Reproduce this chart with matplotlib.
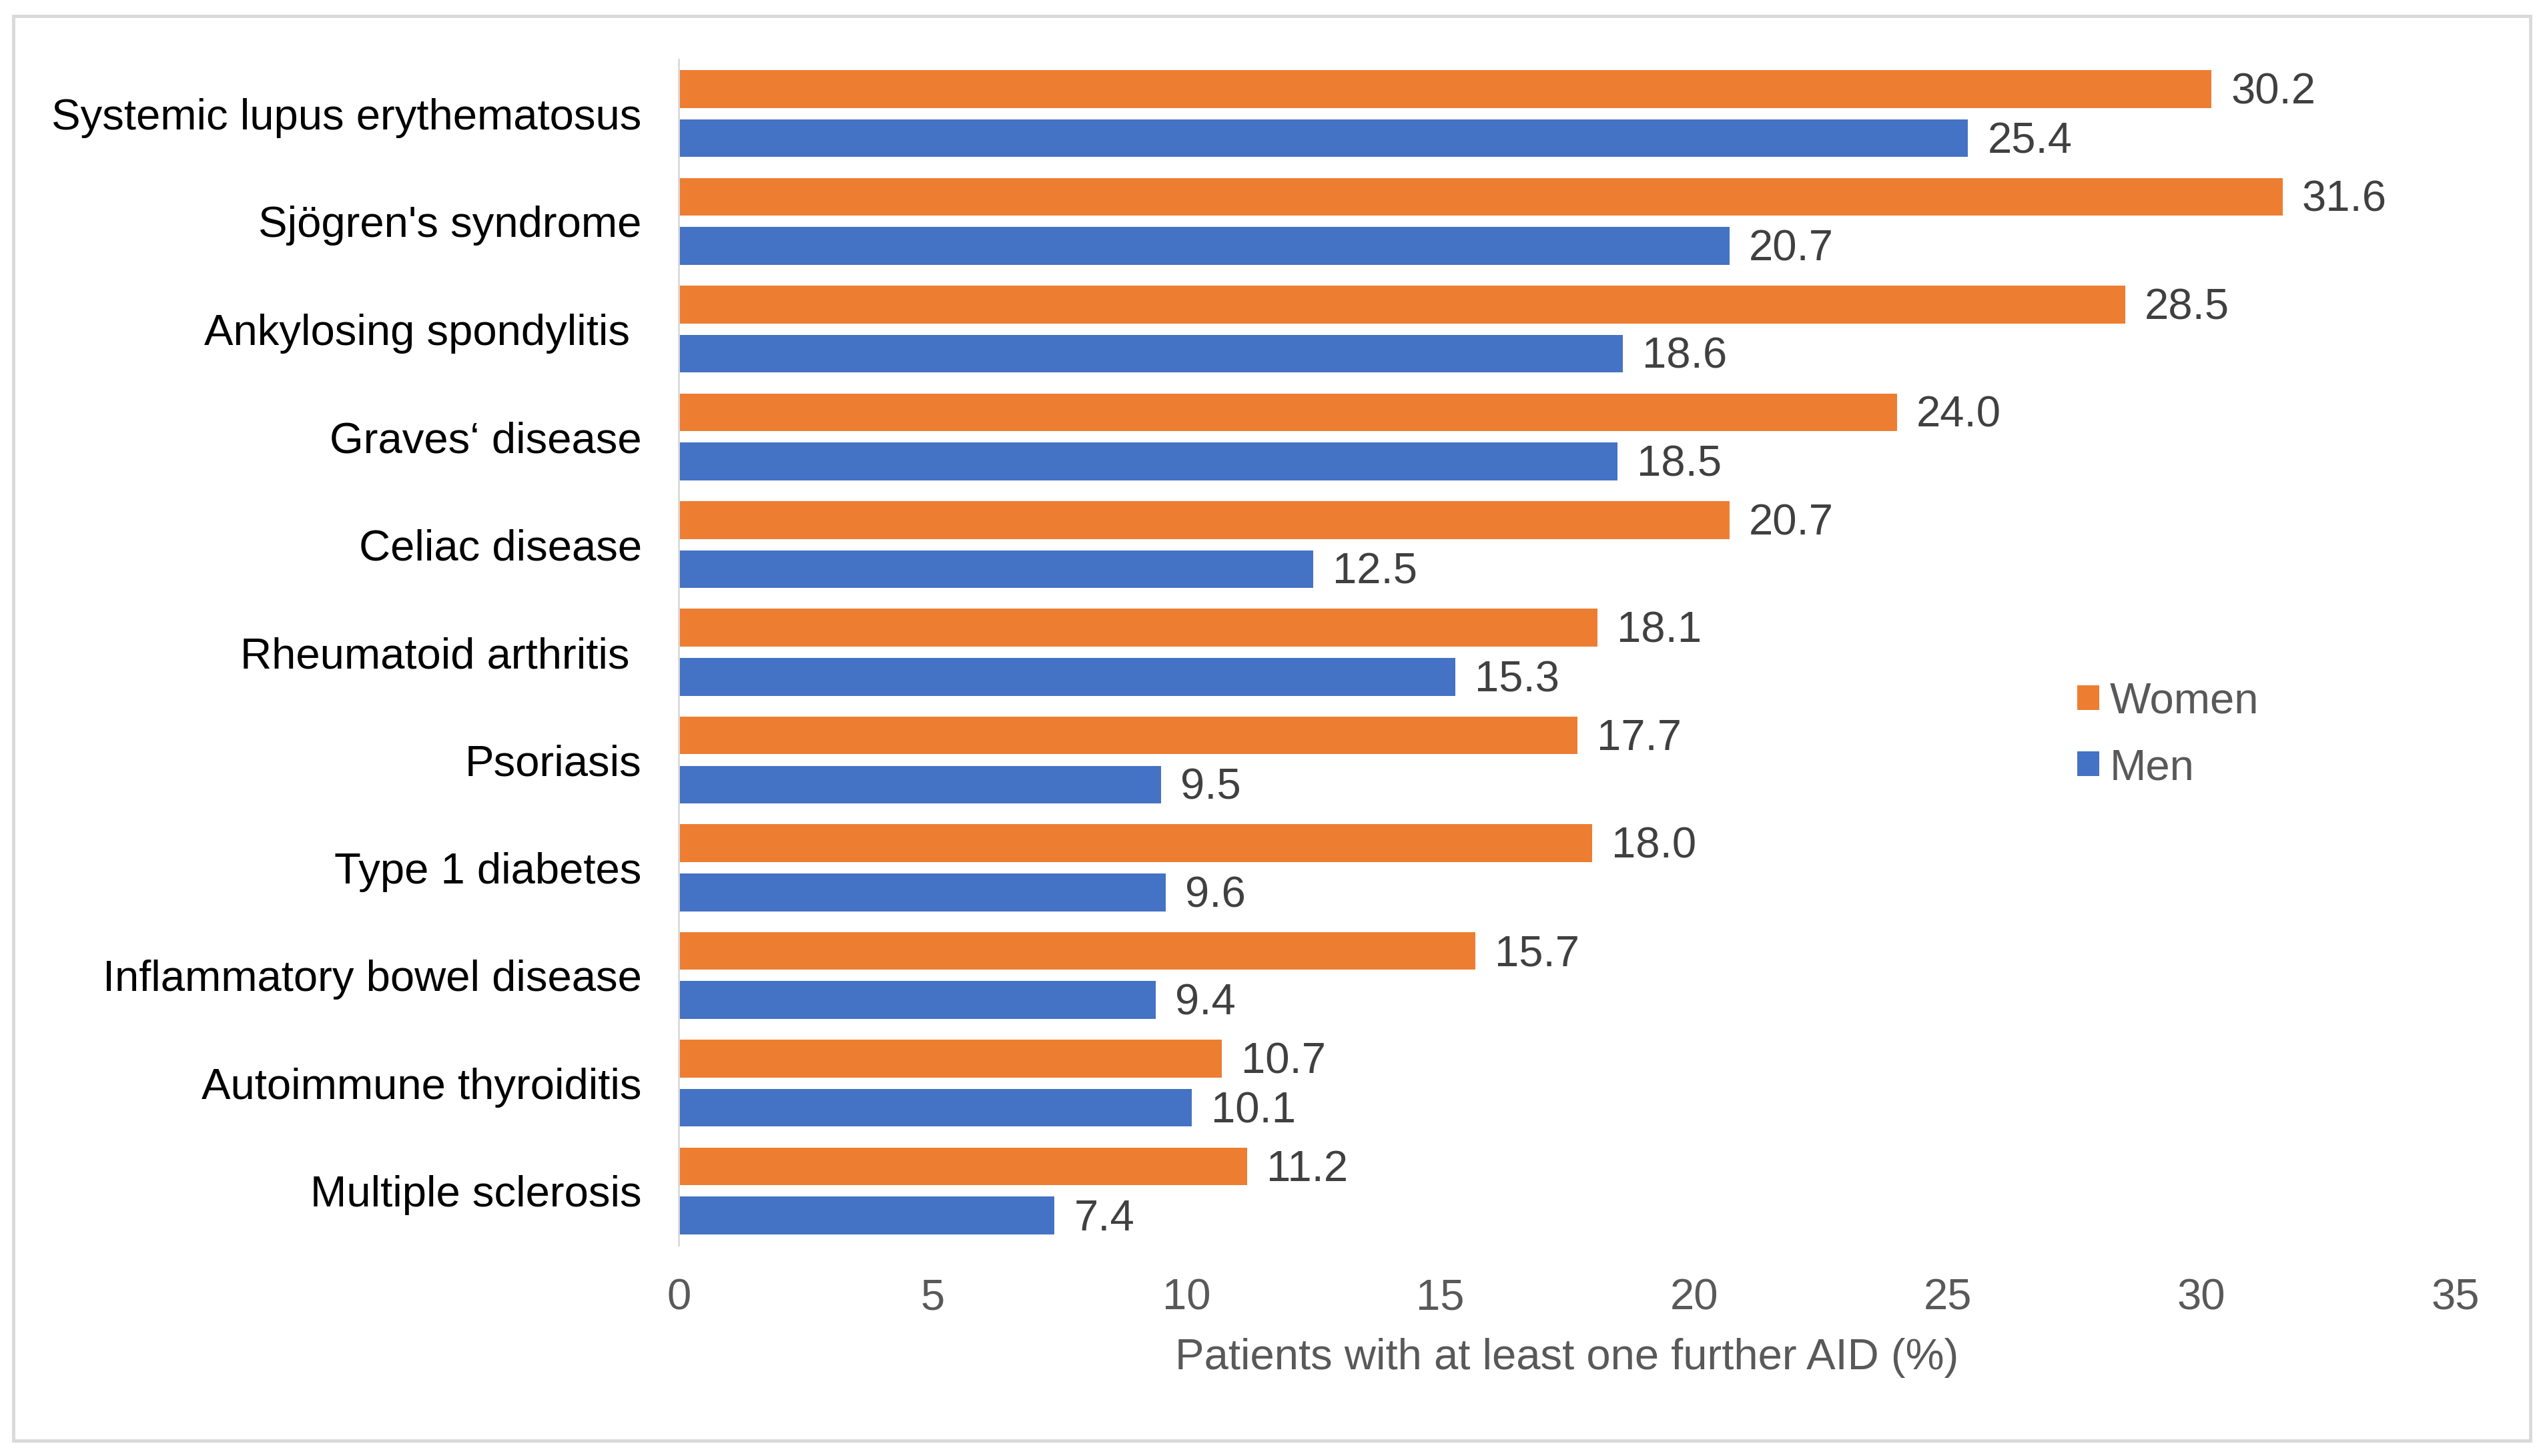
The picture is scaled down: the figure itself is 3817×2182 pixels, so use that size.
import matplotlib.pyplot as plt
import numpy as np
from matplotlib.patches import Rectangle

OUTPUT_PATH = "out.png"

DISEASES = [
    "Systemic lupus erythematosus",
    "Sjögren's syndrome",
    "Ankylosing spondylitis ",
    "Graves\u2018 disease",
    "Celiac disease",
    "Rheumatoid arthritis ",
    "Psoriasis",
    "Type 1 diabetes",
    "Inflammatory bowel disease",
    "Autoimmune thyroiditis",
    "Multiple sclerosis",
]
WOMEN = [30.2, 31.6, 28.5, 24.0, 20.7, 18.1, 17.7, 18.0, 15.7, 10.7, 11.2]
MEN = [25.4, 20.7, 18.6, 18.5, 12.5, 15.3, 9.5, 9.6, 9.4, 10.1, 7.4]
X_TICKS = [0, 5, 10, 15, 20, 25, 30, 35]

ORANGE = "#ED7D31"
BLUE = "#4472C4"
FS = 47


def main():
    plt.rcParams["font.family"] = ["Liberation Sans", "DejaVu Sans"]

    fig = plt.figure(figsize=(38.17, 21.82), dpi=100)
    ax = fig.add_axes([0.2665, 0.145, 0.6975, 0.814])

    y = np.arange(len(DISEASES))
    bar_h = 0.35
    off = 0.228
    ax.barh(y - off, WOMEN, height=bar_h, color=ORANGE, label="Women")
    ax.barh(y + off, MEN, height=bar_h, color=BLUE, label="Men")

    for yi, w, m in zip(y, WOMEN, MEN):
        ax.annotate(f"{w:.1f}", (w, yi - off), xytext=(29, -5),
                    textcoords="offset pixels", va="center", ha="left",
                    fontsize=FS, color="#404040")
        ax.annotate(f"{m:.1f}", (m, yi + off), xytext=(29, -5),
                    textcoords="offset pixels", va="center", ha="left",
                    fontsize=FS, color="#404040")

    ax.set_ylim(len(DISEASES) - 0.5, -0.5)
    ax.set_xlim(0, 35)
    ax.set_yticks(y)
    ax.set_yticklabels(DISEASES, fontsize=FS, color="#000000")
    ax.set_xticks(X_TICKS)
    ax.set_xticklabels([str(t) for t in X_TICKS], fontsize=FS, color="#595959")
    ax.tick_params(axis="both", length=0)
    ax.tick_params(axis="y", pad=40)
    ax.tick_params(axis="x", pad=36)
    ax.set_xlabel("Patients with at least one further AID (%)",
                  fontsize=FS, color="#595959", labelpad=21)

    for side in ["top", "right", "bottom"]:
        ax.spines[side].set_visible(False)
    ax.spines["left"].set_color("#D9D9D9")
    ax.spines["left"].set_linewidth(2)

    ax.legend(loc="center left", bbox_to_anchor=(0.8156, 0.4952),
              bbox_transform=fig.transFigure, frameon=False, fontsize=FS,
              handlelength=0.5, handleheight=0.5, handletextpad=0.25,
              labelspacing=0.6, borderpad=0, borderaxespad=0,
              labelcolor="#595959")

    fig.patches.append(Rectangle((0.0052, 0.0105), 0.9883, 0.9785,
                                 transform=fig.transFigure, fill=False,
                                 edgecolor="#D9D9D9", linewidth=3.5))

    fig.savefig(OUTPUT_PATH, dpi=100)
    plt.close(fig)


if __name__ == "__main__":
    main()
